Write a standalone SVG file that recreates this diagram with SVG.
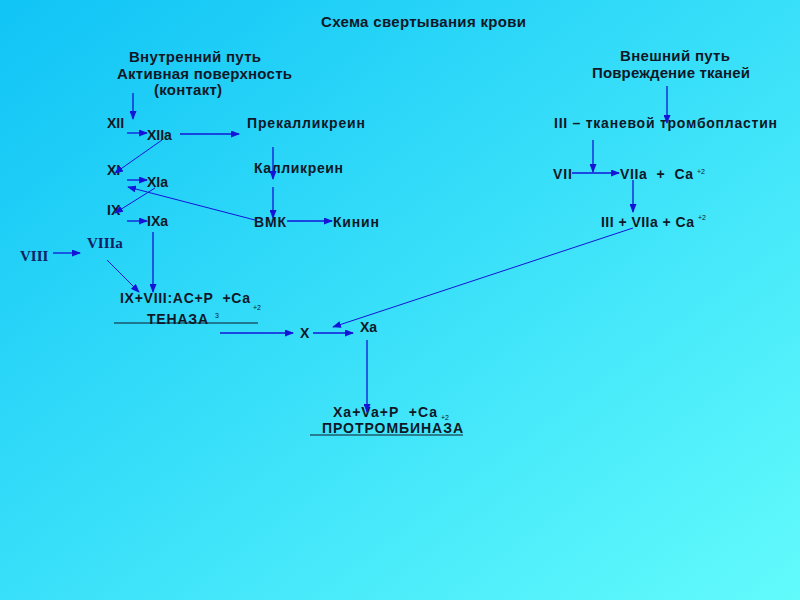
<svg xmlns="http://www.w3.org/2000/svg" width="800" height="600" viewBox="0 0 800 600">
<defs>
<linearGradient id="bg" x1="0" y1="0" x2="1" y2="1">
<stop offset="0" stop-color="#10c4f6"/>
<stop offset="1" stop-color="#62fbfc"/>
</linearGradient>
<marker id="ah" markerWidth="9" markerHeight="7" refX="8" refY="3.5" orient="auto" markerUnits="userSpaceOnUse">
<path d="M0,0 L9,3.5 L0,7 Z" fill="#1414d8"/>
</marker>
<style>
.h{font-family:"Liberation Sans",Arial,sans-serif;font-weight:bold;font-size:15px;fill:#101828}
.t{font-family:"Liberation Sans",Arial,sans-serif;font-weight:bold;font-size:14px;fill:#101828}
.s{font-family:"Liberation Serif","Times New Roman",serif;font-weight:bold;font-size:15px;fill:#102060}
.sup{font-family:"Liberation Sans",Arial,sans-serif;font-size:7px;fill:#101828}
.c line{stroke:#1414d8;stroke-width:1.3;fill:none;marker-end:url(#ah)}
.c .thin{stroke-width:1}
.ul{stroke:#101828;stroke-width:1.2}
</style>
</defs>
<rect width="800" height="600" fill="url(#bg)"/>

<g id="title"><text class="h" x="321" y="27" textLength="205">Схема свертывания крови</text></g>
<g id="intrinsic">
<text class="h" x="129" y="62" textLength="132">Внутренний путь</text>
<text class="h" x="117" y="79" textLength="175">Активная поверхность</text>
<text class="h" x="154" y="95" textLength="68">(контакт)</text>
</g>
<g id="extrinsic">
<text class="h" x="620" y="61" textLength="110">Внешний путь</text>
<text class="h" x="592" y="78" textLength="158">Повреждение тканей</text>
</g>

<g id="XII"><text class="t" x="107" y="128">XII</text></g>
<g id="XIIa"><text class="t" x="147" y="140">XIIa</text></g>
<g id="prekallikrein"><text class="t" x="247" y="128" textLength="118">Прекалликреин</text></g>
<g id="XI"><text class="t" x="107" y="175">XI</text></g>
<g id="XIa"><text class="t" x="147" y="187">XIa</text></g>
<g id="kallikrein"><text class="t" x="254" y="173" textLength="89">Калликреин</text></g>
<g id="IX"><text class="t" x="107" y="215">IX</text></g>
<g id="IXa"><text class="t" x="147" y="226">IXa</text></g>
<g id="VMK"><text class="t" x="254" y="227" textLength="32">ВМК</text></g>
<g id="kinin"><text class="t" x="333" y="227" textLength="46">Кинин</text></g>

<g id="III"><text class="t" x="554" y="128" textLength="223">III – тканевой тромбопластин</text></g>
<g id="VII"><text class="t" x="553" y="179" textLength="19">VII</text></g>
<g id="VIIa"><text class="t" x="620" y="179" textLength="73" xml:space="preserve">VIIa  +  Ca</text><text class="sup" x="697" y="174">+2</text></g>
<g id="III-VIIa"><text class="t" x="601" y="227" textLength="93">III + VIIa + Ca</text><text class="sup" x="698" y="220">+2</text></g>

<g id="VIII"><text class="s" x="20" y="261">VIII</text></g>
<g id="VIIIa"><text class="s" x="87" y="248">VIIIa</text></g>
<g id="tenase">
<text class="t" x="120" y="303" textLength="130" xml:space="preserve">IX+VIII:AC+P  +Ca</text>
<text class="sup" x="253" y="310">+2</text>
<text class="t" x="147" y="324" textLength="61">ТЕНАЗА</text>
<text class="sup" x="215" y="318">3</text>
<line class="ul" x1="114" y1="323" x2="258" y2="323"/>
</g>
<g id="X"><text class="t" x="300" y="338">X</text></g>
<g id="Xa"><text class="t" x="360" y="332">Xa</text></g>
<g id="prothrombinase">
<text class="t" x="333" y="417" textLength="104" xml:space="preserve">Xa+Va+P  +Ca</text>
<text class="sup" x="441" y="420">+2</text>
<text class="t" x="322" y="433" textLength="141">ПРОТРОМБИНАЗА</text>
<line class="ul" x1="310" y1="435" x2="463" y2="435"/>
</g>

<g id="connectors" class="c">
<line x1="133" y1="93" x2="133" y2="119"/>
<line x1="127" y1="133" x2="147" y2="133"/>
<line x1="180" y1="134" x2="239" y2="134"/>
<line class="thin" x1="162" y1="140" x2="115" y2="173"/>
<line x1="127" y1="180" x2="147" y2="180"/>
<line class="thin" x1="155" y1="188" x2="115" y2="213"/>
<line class="thin" x1="255" y1="220" x2="128" y2="187"/>
<line x1="127" y1="221" x2="147" y2="221"/>
<line x1="153" y1="232" x2="153" y2="292"/>
<line x1="273" y1="147" x2="273" y2="179"/>
<line x1="273" y1="187" x2="273" y2="218"/>
<line x1="287" y1="221" x2="332" y2="221"/>
<line x1="667" y1="86" x2="667" y2="123"/>
<line x1="593" y1="140" x2="593" y2="172"/>
<line x1="572" y1="173" x2="619" y2="173"/>
<line x1="633" y1="180" x2="633" y2="212"/>
<line class="thin" x1="633" y1="228" x2="333" y2="327"/>
<line x1="53" y1="253" x2="80" y2="253"/>
<line class="thin" x1="107" y1="260" x2="139" y2="292"/>
<line x1="220" y1="333" x2="293" y2="333"/>
<line x1="313" y1="333" x2="353" y2="333"/>
<line x1="367" y1="340" x2="367" y2="412"/>
</g>
</svg>
